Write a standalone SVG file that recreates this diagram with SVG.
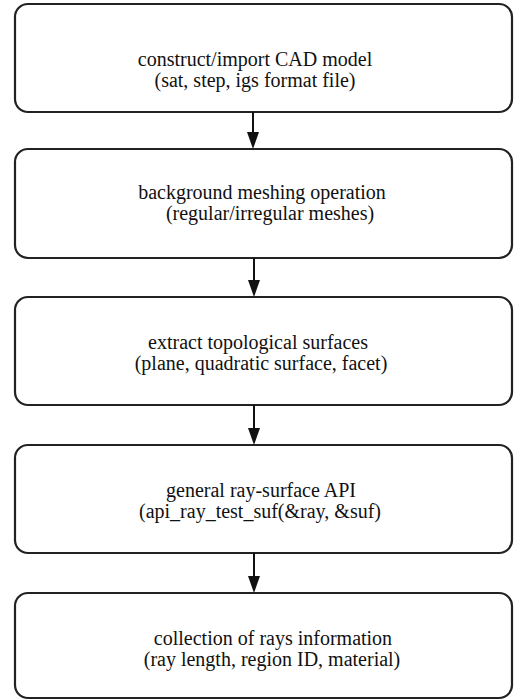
<svg xmlns="http://www.w3.org/2000/svg" width="516" height="700" viewBox="0 0 516 700">
<defs>
<style>
.box{fill:#fff;stroke:#222;stroke-width:2.2}
.t{font-family:"Liberation Serif","Times New Roman",serif;font-size:20px;fill:#111;text-anchor:middle}
.c{stroke:#111;stroke-width:2;fill:none}
.ah{fill:#111}
</style>
</defs>
<rect width="516" height="700" fill="#fff"/>
<g id="n1"><rect class="box" x="15" y="4" width="497" height="108" rx="13"/>
<text class="t" x="255" y="66">construct/import CAD model</text>
<text class="t" x="255" y="87">(sat, step, igs format file)</text></g>
<g id="n2"><rect class="box" x="15" y="149" width="497" height="109" rx="13"/>
<text class="t" x="262" y="199">background meshing operation</text>
<text class="t" x="270" y="220">(regular/irregular meshes)</text></g>
<g id="n3"><rect class="box" x="15" y="297" width="497" height="108" rx="13"/>
<text class="t" x="258" y="349">extract topological surfaces</text>
<text class="t" x="261" y="370">(plane, quadratic surface, facet)</text></g>
<g id="n4"><rect class="box" x="15" y="445" width="497" height="108" rx="13"/>
<text class="t" x="261" y="497">general ray-surface API</text>
<text class="t" x="260" y="518">(api_ray_test_suf(&amp;ray, &amp;suf)</text></g>
<g id="n5"><rect class="box" x="15" y="593" width="497" height="105" rx="13"/>
<text class="t" x="273" y="645">collection of rays information</text>
<text class="t" x="272" y="666">(ray length, region ID, material)</text></g>
<g id="connectors">
<line class="c" x1="253" y1="112" x2="253" y2="135"/><polygon class="ah" points="247,132 259,132 253,149"/>
<line class="c" x1="254" y1="258" x2="254" y2="283"/><polygon class="ah" points="248,280 260,280 254,297"/>
<line class="c" x1="254" y1="405" x2="254" y2="431"/><polygon class="ah" points="248,428 260,428 254,445"/>
<line class="c" x1="254" y1="553" x2="254" y2="579"/><polygon class="ah" points="248,576 260,576 254,593"/>
</g>
</svg>
